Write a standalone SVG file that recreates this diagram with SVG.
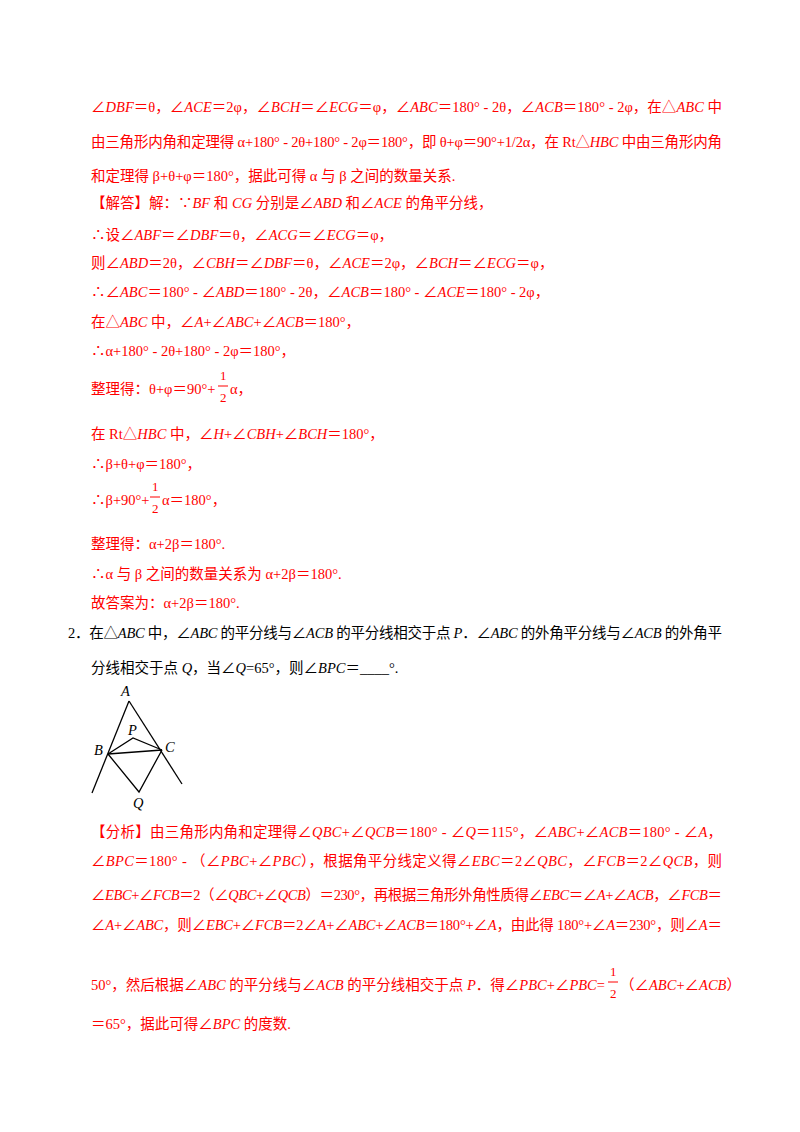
<svg xmlns="http://www.w3.org/2000/svg" width="800" height="1132" viewBox="0 0 800 1132">
<style>
text{font-family:"Liberation Serif","Noto Sans CJK SC",serif;font-size:14.5px}
.r{fill:#ff0000}
.k{fill:#000}
.i{font-style:italic}
.s{font-size:13px}
</style>
<rect width="800" height="1132" fill="#fff"/>
<g id="solution1" class="r">
<text x="91" y="112" textLength="631" lengthAdjust="spacing">∠<tspan class="i">DBF</tspan>＝θ，∠<tspan class="i">ACE</tspan>＝2φ，∠<tspan class="i">BCH</tspan>＝∠<tspan class="i">ECG</tspan>＝φ，∠<tspan class="i">ABC</tspan>＝180° - 2θ，∠<tspan class="i">ACB</tspan>＝180° - 2φ，在△<tspan class="i">ABC</tspan> 中</text>
<text x="91" y="147" textLength="631" lengthAdjust="spacing">由三角形内角和定理得 α+180° - 2θ+180° - 2φ＝180°，即 θ+φ＝90°+1/2α，在 Rt△<tspan class="i">HBC</tspan> 中由三角形内角</text>
<text x="91" y="181">和定理得 β+θ+φ＝180°，据此可得 α 与 β 之间的数量关系.</text>
<text x="91" y="208">【解答】解：∵<tspan class="i">BF</tspan> 和 <tspan class="i">CG</tspan> 分别是∠<tspan class="i">ABD</tspan> 和∠<tspan class="i">ACE</tspan> 的角平分线，</text>
<text x="91" y="240">∴设∠<tspan class="i">ABF</tspan>＝∠<tspan class="i">DBF</tspan>＝θ，∠<tspan class="i">ACG</tspan>＝∠<tspan class="i">ECG</tspan>＝φ，</text>
<text x="91" y="268">则∠<tspan class="i">ABD</tspan>＝2θ，∠<tspan class="i">CBH</tspan>＝∠<tspan class="i">DBF</tspan>＝θ，∠<tspan class="i">ACE</tspan>＝2φ，∠<tspan class="i">BCH</tspan>＝∠<tspan class="i">ECG</tspan>＝φ，</text>
<text x="91" y="297">∴∠<tspan class="i">ABC</tspan>＝180° - ∠<tspan class="i">ABD</tspan>＝180° - 2θ，∠<tspan class="i">ACB</tspan>＝180° - ∠<tspan class="i">ACE</tspan>＝180° - 2φ，</text>
<text x="91" y="327">在△<tspan class="i">ABC</tspan> 中，∠<tspan class="i">A</tspan>+∠<tspan class="i">ABC</tspan>+∠<tspan class="i">ACB</tspan>＝180°，</text>
<text x="91" y="356">∴α+180° - 2θ+180° - 2φ＝180°，</text>
<text x="91" y="394">整理得：θ+φ＝90°+</text>
<text x="220" y="380" class="s">1</text>
<line x1="218" y1="386" x2="228" y2="386" stroke="#ff0000" stroke-width="1"/>
<text x="220" y="402" class="s">2</text>
<text x="230" y="394">α，</text>
<text x="91" y="439">在 Rt△<tspan class="i">HBC</tspan> 中，∠<tspan class="i">H</tspan>+∠<tspan class="i">CBH</tspan>+∠<tspan class="i">BCH</tspan>＝180°，</text>
<text x="91" y="469">∴β+θ+φ＝180°，</text>
<text x="91" y="505">∴β+90°+</text>
<text x="152" y="491" class="s">1</text>
<line x1="150" y1="497" x2="160" y2="497" stroke="#ff0000" stroke-width="1"/>
<text x="152" y="513" class="s">2</text>
<text x="162" y="505">α＝180°，</text>
<text x="91" y="549">整理得：α+2β＝180°.</text>
<text x="91" y="579">∴α 与 β 之间的数量关系为 α+2β＝180°.</text>
<text x="91" y="608">故答案为：α+2β＝180°.</text>
</g>
<g id="question2" class="k">
<text x="68" y="638" textLength="654" lengthAdjust="spacing">2．在△<tspan class="i">ABC</tspan> 中，∠<tspan class="i">ABC</tspan> 的平分线与∠<tspan class="i">ACB</tspan> 的平分线相交于点 <tspan class="i">P</tspan>．∠<tspan class="i">ABC</tspan> 的外角平分线与∠<tspan class="i">ACB</tspan> 的外角平</text>
<text x="91" y="673">分线相交于点 <tspan class="i">Q</tspan>，当∠<tspan class="i">Q</tspan>=65°，则∠<tspan class="i">BPC</tspan>＝____°.</text>
</g>
<g id="figure" fill="none" stroke="#000" stroke-width="1.3">
<line x1="129" y1="701" x2="92" y2="793"/>
<line x1="129" y1="701" x2="182" y2="784"/>
<polyline points="108,754 133,738 162,750"/>
<line x1="108" y1="754" x2="162" y2="750"/>
<polyline points="108,754 139,792 162,750"/>
</g>
<g id="figure-labels" class="k i">
<text x="121" y="696">A</text>
<text x="128" y="735">P</text>
<text x="94" y="755">B</text>
<text x="165" y="752">C</text>
<text x="133" y="808">Q</text>
</g>
<g id="analysis2" class="r">
<text x="91" y="837" textLength="631" lengthAdjust="spacing">【分析】由三角形内角和定理得∠<tspan class="i">QBC</tspan>+∠<tspan class="i">QCB</tspan>＝180° - ∠<tspan class="i">Q</tspan>＝115°，∠<tspan class="i">ABC</tspan>+∠<tspan class="i">ACB</tspan>＝180° - ∠<tspan class="i">A</tspan>，</text>
<text x="91" y="866" textLength="631" lengthAdjust="spacing">∠<tspan class="i">BPC</tspan>＝180° - （∠<tspan class="i">PBC</tspan>+∠<tspan class="i">PBC</tspan>），根据角平分线定义得∠<tspan class="i">EBC</tspan>＝2∠<tspan class="i">QBC</tspan>，∠<tspan class="i">FCB</tspan>＝2∠<tspan class="i">QCB</tspan>，则</text>
<text x="91" y="900" textLength="631" lengthAdjust="spacing">∠<tspan class="i">EBC</tspan>+∠<tspan class="i">FCB</tspan>＝2（∠<tspan class="i">QBC</tspan>+∠<tspan class="i">QCB</tspan>）＝230°，再根据三角形外角性质得∠<tspan class="i">EBC</tspan>＝∠<tspan class="i">A</tspan>+∠<tspan class="i">ACB</tspan>，∠<tspan class="i">FCB</tspan>＝</text>
<text x="91" y="930" textLength="631" lengthAdjust="spacing">∠<tspan class="i">A</tspan>+∠<tspan class="i">ABC</tspan>，则∠<tspan class="i">EBC</tspan>+∠<tspan class="i">FCB</tspan>＝2∠<tspan class="i">A</tspan>+∠<tspan class="i">ABC</tspan>+∠<tspan class="i">ACB</tspan>＝180°+∠<tspan class="i">A</tspan>，由此得 180°+∠<tspan class="i">A</tspan>＝230°，则∠<tspan class="i">A</tspan>＝</text>
<text x="91" y="990">50°，然后根据∠<tspan class="i">ABC</tspan> 的平分线与∠<tspan class="i">ACB</tspan> 的平分线相交于点 <tspan class="i">P</tspan>．得∠<tspan class="i">PBC</tspan>+∠<tspan class="i">PBC</tspan>=</text>
<text x="610" y="976" class="s">1</text>
<line x1="608" y1="982" x2="618" y2="982" stroke="#ff0000" stroke-width="1"/>
<text x="610" y="998" class="s">2</text>
<text x="620" y="990">（∠<tspan class="i">ABC</tspan>+∠<tspan class="i">ACB</tspan>）</text>
<text x="91" y="1029">＝65°，据此可得∠<tspan class="i">BPC</tspan> 的度数.</text>
</g>
</svg>
